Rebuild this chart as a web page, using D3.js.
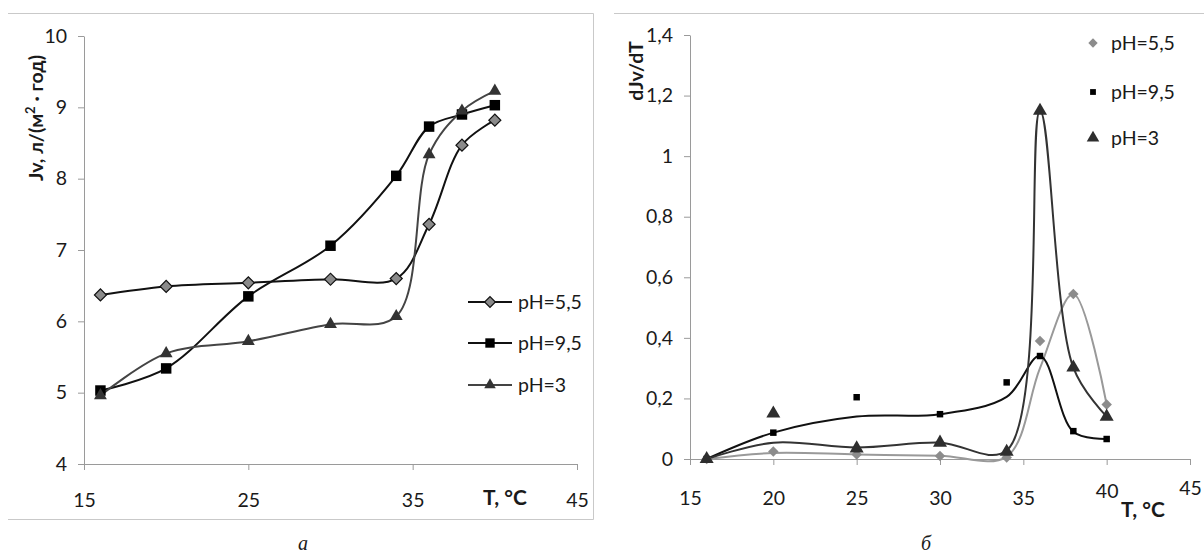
<!DOCTYPE html>
<html><head><meta charset="utf-8">
<script src="https://cdn.jsdelivr.net/npm/d3@7"></script>
<style>
html,body{margin:0;padding:0;background:#fff;}
svg text{font-family:Lato,"Open Sans",sans-serif;fill:#1a1a1a;}
</style></head>
<body>
<svg id="c" width="1204" height="555"></svg>
<script>
// ---------- data ----------
const temps = [16, 20, 25, 30, 34, 36, 38, 40];
const seriesNames = ["pH=5,5", "pH=9,5", "pH=3"];
// chart a: Jv
const jv55 = [6.37, 6.49, 6.54, 6.59, 6.60, 7.36, 8.47, 8.82];
const jv95 = [5.03, 5.34, 6.35, 7.06, 8.04, 8.73, 8.90, 9.03];
const jv3  = [4.96, 5.55, 5.72, 5.96, 6.07, 8.34, 8.95, 9.23];
// chart б: dJv/dT (points and smoothed trend lines)
const d55Pts  = [0, 0.025, 0.015, 0.010, 0.005, 0.39, 0.545, 0.18];
const d95Pts  = [0, 0.087, 0.204, 0.148, 0.253, 0.34, 0.092, 0.066];
const d3Pts   = [0, 0.15, 0.035, 0.054, 0.024, 1.15, 0.302, 0.14];
const d55Line = [0, 0.020, 0.015, 0.011, 0.008, 0.30, 0.545, 0.18];
const d95Line = [0, 0.087, 0.140, 0.148, 0.205, 0.34, 0.090, 0.066];
const d3Line  = [0, 0.054, 0.038, 0.054, 0.028, 1.15, 0.302, 0.14];
// ticks
const xTicksA = [15, 25, 35, 45];
const yTicksA = [4, 5, 6, 7, 8, 9, 10];
const xTicksB = [15, 20, 25, 30, 35, 40, 45];
const yTicksB = [0, 0.2, 0.4, 0.6, 0.8, 1, 1.2, 1.4];

const svg = d3.select("#c");
const fmt = v => String(v).replace(".", ",");
const axisColor = "#9a9a9a";
const FS = 19.5;

// frames
svg.append("path").attr("d", "M8,13.5H593.5V519.5H8").attr("fill","none").attr("stroke","#c9c9c9").attr("stroke-width",1);
svg.append("path").attr("d", "M614,13.5H1204").attr("fill","none").attr("stroke","#c9c9c9").attr("stroke-width",1);

function styleAxis(g){
  g.select(".domain").attr("stroke", axisColor);
  g.selectAll(".tick line").attr("stroke", axisColor);
  g.selectAll(".tick text").attr("font-size", FS).attr("fill","#1a1a1a")
    .style("font-family","Lato,'Open Sans',sans-serif");
}

function marker(sel, type, size, fill, stroke){
  const sym = type === "triangle" ? d3.symbolTriangle : d3.symbolSquare;
  sel.attr("d", d3.symbol().type(sym).size(size))
     .attr("fill", fill).attr("stroke", stroke || "none").attr("stroke-width", stroke ? 1.2 : 0);
}

// ---------- chart a ----------
const xA = d3.scaleLinear([15, 45], [84, 577]);
const yA = d3.scaleLinear([4, 10], [464, 36]);
const gA = svg.append("g");
gA.append("g").attr("transform","translate(84,0)")
  .call(d3.axisLeft(yA).tickValues(yTicksA).tickSize(6).tickPadding(11).tickSizeOuter(0).tickFormat(fmt))
  .call(styleAxis);
gA.append("g").attr("transform","translate(0,464)")
  .call(d3.axisBottom(xA).tickValues(xTicksA).tickSize(6).tickPadding(23).tickSizeOuter(0).tickFormat(fmt))
  .call(styleAxis);

const seriesA = [
  {name: seriesNames[0], vals: jv55, type:"diamond", size:72, fill:"#8a8a8a", stroke:"#111", line:"#111"},
  {name: seriesNames[1], vals: jv95, type:"square", size:110, fill:"#000", stroke:null, line:"#111"},
  {name: seriesNames[2], vals: jv3,  type:"triangle", size:72, fill:"#333", stroke:null, line:"#444"}
];
const curve = d3.curveCatmullRom.alpha(0.5);
const lineA = d3.line().x(d => xA(d[0])).y(d => yA(d[1])).curve(curve);
seriesA.forEach(s => {
  const pts = temps.map((t,i) => [t, s.vals[i]]);
  gA.append("path").attr("d", lineA(pts)).attr("fill","none").attr("stroke", s.line).attr("stroke-width", 2);
});
seriesA.forEach(s => {
  const pts = temps.map((t,i) => [t, s.vals[i]]);
  gA.selectAll(null).data(pts).join("path")
    .call(marker, s.type, s.size, s.fill, s.stroke)
    .attr("transform", d => `translate(${xA(d[0])},${yA(d[1])})` + (s.type==="diamond" ? " rotate(45)" : ""));
});
// legend a
const legYA = [302, 343, 385];
seriesA.forEach((s,i) => {
  const g = gA.append("g").attr("transform", `translate(0,${legYA[i]})`);
  g.append("line").attr("x1",468).attr("x2",512).attr("stroke", s.line).attr("stroke-width",2);
  g.append("path").call(marker, s.type, s.size*0.8, s.fill, s.stroke)
    .attr("transform", "translate(490,0)" + (s.type==="diamond" ? " rotate(45)" : ""));
  g.append("text").attr("x",518).attr("dy","0.36em").attr("font-size",FS).text(s.name);
});
// titles a
gA.append("text").attr("x",505).attr("y",505).attr("text-anchor","middle")
  .attr("font-size",21).attr("font-weight","bold").text("T, °C");
const ytA = gA.append("text").attr("transform","translate(43,118) rotate(-90)").attr("text-anchor","middle")
  .attr("font-size",19.5).attr("font-weight","bold");
ytA.append("tspan").text("Jv, л/(м");
ytA.append("tspan").attr("dy",-8).attr("font-size",13).text("2");
ytA.append("tspan").attr("dy",8).text(" · год)");
svg.append("text").attr("x",303).attr("y",550).attr("text-anchor","middle")
  .style("font-family","'Liberation Serif',serif").style("font-style","italic").attr("font-size",20).text("а");

// ---------- chart б ----------
const xB = d3.scaleLinear([15, 45], [690, 1190]);
const yB = d3.scaleLinear([0, 1.4], [459, 35]);
const gB = svg.append("g");
gB.append("g").attr("transform","translate(690,0)")
  .call(d3.axisLeft(yB).tickValues(yTicksB).tickSize(6).tickPadding(11).tickSizeOuter(0).tickFormat(fmt))
  .call(styleAxis);
const xAxB = gB.append("g").attr("transform","translate(0,459)")
  .call(d3.axisBottom(xB).tickValues(xTicksB).tickSize(6).tickPadding(26).tickSizeOuter(0).tickFormat(fmt))
  .call(styleAxis);
xAxB.selectAll(".tick text").filter(d => d === 40).attr("y", 25);
xAxB.selectAll(".tick text").filter(d => d === 45).attr("y", 22);

const seriesB = [
  {name: seriesNames[0], pts: d55Pts, line: d55Line, type:"diamond", size:55, fill:"#8c8c8c", stroke:null, lc:"#999"},
  {name: seriesNames[1], pts: d95Pts, line: d95Line, type:"square", size:42, fill:"#000", stroke:null, lc:"#111"},
  {name: seriesNames[2], pts: d3Pts,  line: d3Line,  type:"triangle", size:85, fill:"#2e2e2e", stroke:null, lc:"#333"}
];
const lineB = d3.line().x(d => xB(d[0])).y(d => yB(d[1])).curve(curve);
seriesB.forEach(s => {
  gB.append("path").attr("d", lineB(temps.map((t,i)=>[t, s.line[i]])))
    .attr("fill","none").attr("stroke", s.lc).attr("stroke-width", 2);
});
seriesB.forEach(s => {
  gB.selectAll(null).data(temps.map((t,i)=>[t, s.pts[i]])).join("path")
    .call(marker, s.type, s.size, s.fill, s.stroke)
    .attr("transform", d => `translate(${xB(d[0])},${yB(d[1])})` + (s.type==="diamond" ? " rotate(45)" : ""));
});
const legYB = [43, 92, 138];
seriesB.forEach((s,i) => {
  const g = gB.append("g").attr("transform", `translate(0,${legYB[i]})`);
  g.append("path").call(marker, s.type, s.size*0.8, s.fill, s.stroke)
    .attr("transform", "translate(1093,0)" + (s.type==="diamond" ? " rotate(45)" : ""));
  g.append("text").attr("x",1111).attr("dy","0.36em").attr("font-size",FS).text(s.name);
});
gB.append("text").attr("x",1143).attr("y",517).attr("text-anchor","middle")
  .attr("font-size",21).attr("font-weight","bold").text("T, °C");
gB.append("text").attr("transform","translate(643,71) rotate(-90)").attr("text-anchor","middle")
  .attr("font-size",19.5).attr("font-weight","bold").text("dJv/dT");
svg.append("text").attr("x",926).attr("y",550).attr("text-anchor","middle")
  .style("font-family","'Liberation Serif',serif").style("font-style","italic").attr("font-size",20).text("б");
</script>
</body></html>
